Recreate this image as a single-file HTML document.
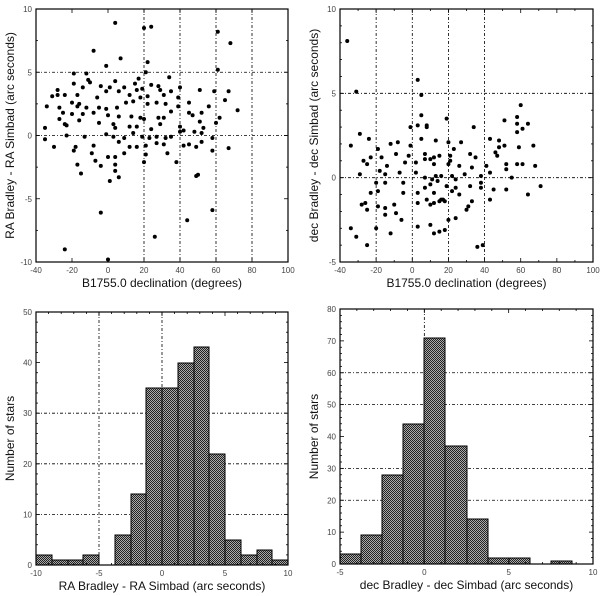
<!DOCTYPE html>
<html><head><meta charset="utf-8">
<style>
html,body{margin:0;padding:0;background:#fff;}
svg{display:block;font-family:"Liberation Sans",sans-serif;}
.tk{font-size:8px;fill:#444;}
.ttl{font-size:12px;fill:#111;}
</style></head>
<body>
<svg id="chart" width="600" height="596" viewBox="0 0 600 596" xmlns="http://www.w3.org/2000/svg">
<defs>
<pattern id="chk" x="0" y="0" width="2" height="2" patternUnits="userSpaceOnUse">
<rect width="2" height="2" fill="#aaa" shape-rendering="crispEdges"/><rect width="1" height="1" fill="#222" shape-rendering="crispEdges"/><rect x="1" y="1" width="1" height="1" fill="#222" shape-rendering="crispEdges"/>
</pattern>
</defs>
</svg>
<script>
// Top-left scatter: declination vs RA residual
const tlDec=[4,20,24,61,68,-8,7,22,-1,61,21,-19,-12,17,34,-11,-10,-4,4,15,24,-19,-14,9,1,28,-28,51,59,67,40,-31,-28,-24,-17,-6,-1,6,12,16,19,22,29,35,31,39,65,-34,-27,-20,-17,-16,-12,-5,-1,5,10,14,18,22,27,32,39,45,56,72,-25,-20,-14,-8,0,6,13,18,20,28,31,35,45,47,52,51,60,62,-35,-27,-24,-23,-16,-5,3,4,12,16,24,29,40,42,48,53,52,-35,-23,-13,-1,3,9,14,19,23,27,32,35,40,58,-30,-18,-8,6,12,16,21,27,31,42,45,52,49,58,67,-19,-9,4,9,0,21,33,-17,-7,-4,4,20,38,-15,4,6,1,50,49,-4,58,44,26,-24,0];
const tlRa=[8.9,8.5,8.6,8.2,7.3,6.7,6.1,5.8,5.5,5.2,5.0,4.9,4.9,4.5,4.6,4.4,4.2,3.9,4.3,4.1,4.0,4.1,3.8,3.8,3.8,3.9,3.6,3.6,3.5,3.5,3.8,3.1,3.2,3.2,3.2,3.0,3.5,3.5,3.2,3.6,3.7,3.1,3.6,3.5,3.2,3.0,2.8,2.3,2.2,2.6,2.3,2.5,2.2,2.2,2.1,2.2,2.6,2.7,3.0,2.5,2.6,2.5,2.3,2.6,2.3,2.0,1.8,1.7,1.7,1.8,1.6,1.5,1.5,1.4,1.3,1.4,1.4,1.9,1.8,1.6,1.8,1.1,1.0,1.4,0.6,1.3,0.9,0.8,1.2,1.0,0.9,0.6,0.7,0.7,0.5,0.9,0.7,0.4,0.3,0.6,0.2,-0.3,0,-0.1,0.1,-0.1,-0.2,0.2,-0.1,-0.2,-0.1,-0.2,-0.1,0.3,-0.2,-0.9,-0.9,-0.8,-0.5,-0.9,-0.9,-0.8,-0.6,-0.7,-0.8,-0.7,-0.5,-0.9,-1.2,-1.0,-1.2,-1.4,-1.7,-1.4,-1.7,-1.5,-1.4,-2.3,-2.0,-2.4,-2.3,-2.1,-2.1,-3.0,-2.8,-3.3,-3.6,-3.1,-3.2,-6.1,-5.9,-6.7,-8.0,-9.0,-9.8];
// Top-right scatter: declination vs dec residual
const trDec=[-36,3,-31,5,60,5,19,51,58,58,64,61,-1,3,8,8,34,-29,58,-24,5,13,27,43,51,48,48,59,67,-34,-12,-8,-1,20,23,-19,-9,-23,-17,-27,-2,7,7,10,12,15,21,21,32,35,46,47,41,-25,-14,-4,2,12,20,26,33,52,58,61,68,-29,-18,-15,-7,2,7,11,13,16,22,24,29,38,43,55,52,-20,-15,-5,7,10,14,19,24,32,38,45,52,71,38,-23,-19,-5,3,12,22,26,64,-28,-26,-19,-15,-10,8,10,12,15,16,17,18,31,33,43,3,-25,-15,-9,-6,20,24,30,-20,-12,3,10,12,15,18,-34,-31,-25,36,39];
const trDr=[8.1,5.8,5.1,4.9,4.3,3.7,3.5,3.4,3.6,3.2,3.2,2.9,3.0,3.1,3.1,3.0,3.0,2.6,2.7,2.3,2.3,2.2,2.1,2.3,1.9,2.2,1.8,1.8,1.9,1.9,2.0,2.1,1.9,2.1,1.7,1.7,1.4,1.2,1.2,1.0,1.3,1.1,1.4,1.1,1.2,1.3,1.3,1.0,1.4,1.2,1.5,1.3,0.7,0.8,0.7,0.9,0.9,0.8,0.8,0.7,0.6,0.8,0.8,0.8,0.7,0.2,0.4,0.2,0.3,0.3,0,-0.1,0.1,0.1,0.1,-0.1,0.2,0.1,0.3,0,0.5,-0.3,-0.3,-0.3,-0.6,-0.4,-0.2,-0.5,-0.6,-0.5,-0.3,-0.7,-0.7,-0.5,-0.6,-0.9,-0.8,-0.9,-0.9,-0.9,-0.8,-1.0,-1.0,-1.6,-1.5,-1.7,-1.8,-1.6,-1.3,-1.6,-1.5,-1.4,-1.3,-1.3,-1.4,-1.7,-1.4,-1.3,-1.5,-1.9,-2.2,-2.1,-2.5,-2.5,-2.4,-1.9,-3.0,-3.3,-2.9,-2.8,-3.3,-3.2,-3.1,-3.0,-3.5,-4.0,-4.1,-4.0];
// Bottom-left histogram: RA residual counts (bins of 1.25 arcsec from -10)
const blStart=-10, blWidth=1.25;
const blCounts=[2,1,1,2,0,6,14,35,35,40,43,22,5,2,3,1];
// Bottom-right histogram: dec residual counts (bins of 1.25 arcsec from -5)
const brStart=-5, brWidth=1.25;
const brCounts=[3,9,28,44,71,37,14,2,2,0,1];
// Tick labels
const tlXTicks=[-40,-20,0,20,40,60,80,100];
const tlYTicks=[-10,-5,0,5,10];
const trYTicks=[-5,0,5,10];
const blXTicks=[-10,-5,0,5,10];
const blYTicks=[0,10,20,30,40,50];
const brXTicks=[-5,0,5,10];
const brYTicks=[0,10,20,30,40,50,60,70,80];

const NS='http://www.w3.org/2000/svg';
const svg=document.getElementById('chart');
function mk(tag,attrs,parent){const e=document.createElementNS(NS,tag);for(const k in attrs)e.setAttribute(k,attrs[k]);(parent||svg).appendChild(e);return e;}

function panel(o){
  const g=mk('g',{});
  
  
  const sx=v=>o.x0+(v-o.xmin)/(o.xmax-o.xmin)*(o.x1-o.x0);
  const sy=v=>o.y1-(v-o.ymin)/(o.ymax-o.ymin)*(o.y1-o.y0);
  o.gx.forEach(v=>{const l=mk('line',{x1:sx(v),x2:sx(v),y1:o.y0,y2:o.y1,stroke:'#000','stroke-width':0.8,'stroke-dasharray':'3,2,1,2'},g);
    
    });
  o.gy.forEach(v=>{const l=mk('line',{x1:o.x0,x2:o.x1,y1:sy(v),y2:sy(v),stroke:'#000','stroke-width':0.8,'stroke-dasharray':'3,2,1,2'},g);
    
    });
  if(o.bars){
    o.bars.counts.forEach((c,i)=>{ if(c<=0) return;
      const a=Math.round(sx(o.bars.start+i*o.bars.width)), b=Math.round(sx(o.bars.start+(i+1)*o.bars.width));
      const top=Math.round(sy(c)), bot=Math.round(sy(0));
      const r=mk('rect',{x:a,y:top,width:b-a,height:bot-top,fill:'url(#chk)',stroke:'#000','stroke-width':1,'shape-rendering':'crispEdges'},g);
      
      
    });
  }
  if(o.pts){
    o.pts.x.forEach((v,i)=>{
      const c=mk('circle',{cx:sx(v),cy:sy(o.pts.y[i]),r:2,fill:'#000'},g);
      
      
    });
  }
  const f=mk('rect',{x:o.x0,y:o.y0,width:o.x1-o.x0,height:o.y1-o.y0,fill:'none',stroke:'#000','stroke-width':1.2},g);
  
  
  for(let v=o.xmin;v<=o.xmax+1e-9;v+=o.xminor){
    const maj=Math.abs(((v-o.xmin)/o.xmajor)-Math.round((v-o.xmin)/o.xmajor))<1e-6, L=maj?4:2;
    mk('line',{x1:sx(v),x2:sx(v),y1:o.y1,y2:o.y1-L,stroke:'#000','stroke-width':0.8},g);
    mk('line',{x1:sx(v),x2:sx(v),y1:o.y0,y2:o.y0+L,stroke:'#000','stroke-width':0.8},g);
  }
  for(let v=o.ymin;v<=o.ymax+1e-9;v+=o.yminor){
    const maj=Math.abs(((v-o.ymin)/o.ymajor)-Math.round((v-o.ymin)/o.ymajor))<1e-6, L=maj?4:2;
    mk('line',{x1:o.x0,x2:o.x0+L,y1:sy(v),y2:sy(v),stroke:'#000','stroke-width':0.8},g);
    mk('line',{x1:o.x1,x2:o.x1-L,y1:sy(v),y2:sy(v),stroke:'#000','stroke-width':0.8},g);
  }
  o.xt.forEach(v=>{const t=mk('text',{x:sx(v),y:o.y1+11,'text-anchor':'middle',class:'tk'},g);t.textContent=v;
    
    });
  o.yt.forEach(v=>{const t=mk('text',{x:o.x0-4,y:sy(v)+3,'text-anchor':'end',class:'tk'},g);t.textContent=v;
    
    });
  const xt=mk('text',{x:(o.x0+o.x1)/2,y:o.y1+25,'text-anchor':'middle',class:'ttl'},g);xt.textContent=o.xtitle;
  
  
  const yx=o.x0-22, yy=(o.y0+o.y1)/2;
  const yt=mk('text',{x:yx,y:yy,'text-anchor':'middle',class:'ttl',transform:`rotate(-90 ${yx} ${yy})`},g);yt.textContent=o.ytitle;
  
  
}

panel({name:'ra-vs-declination-scatter',x0:36,x1:288,y0:9,y1:262,xmin:-40,xmax:100,ymin:-10,ymax:10,
  xmajor:20,xminor:20,ymajor:5,yminor:2.5,gx:[20,40,60,80],gy:[0,5],xt:tlXTicks,yt:tlYTicks,
  pts:{x:tlDec,y:tlRa},xtitle:'B1755.0 declination (degrees)',ytitle:'RA Bradley - RA Simbad (arc seconds)'});
panel({name:'dec-vs-declination-scatter',x0:340,x1:593,y0:9,y1:262,xmin:-40,xmax:100,ymin:-5,ymax:10,
  xmajor:20,xminor:10,ymajor:5,yminor:1,gx:[-20,0,20,40],gy:[0,5],xt:tlXTicks,yt:trYTicks,
  pts:{x:trDec,y:trDr},xtitle:'B1755.0 declination (degrees)',ytitle:'dec Bradley - dec Simbad (arc seconds)'});
panel({name:'ra-residual-histogram',x0:36,x1:288,y0:312,y1:565,xmin:-10,xmax:10,ymin:0,ymax:50,
  xmajor:5,xminor:1,ymajor:10,yminor:2,gx:[-5,0],gy:[10,20,30],xt:blXTicks,yt:blYTicks,
  bars:{start:blStart,width:blWidth,counts:blCounts},xtitle:'RA Bradley - RA Simbad (arc seconds)',ytitle:'Number of stars'});
panel({name:'dec-residual-histogram',x0:340,x1:593,y0:309,y1:564,xmin:-5,xmax:10,ymin:0,ymax:80,
  xmajor:5,xminor:1,ymajor:10,yminor:2,gx:[0],gy:[20,30,50,60],xt:brXTicks,yt:brYTicks,
  bars:{start:brStart,width:brWidth,counts:brCounts},xtitle:'dec Bradley - dec Simbad (arc seconds)',ytitle:'Number of stars'});
</script>
</body></html>
